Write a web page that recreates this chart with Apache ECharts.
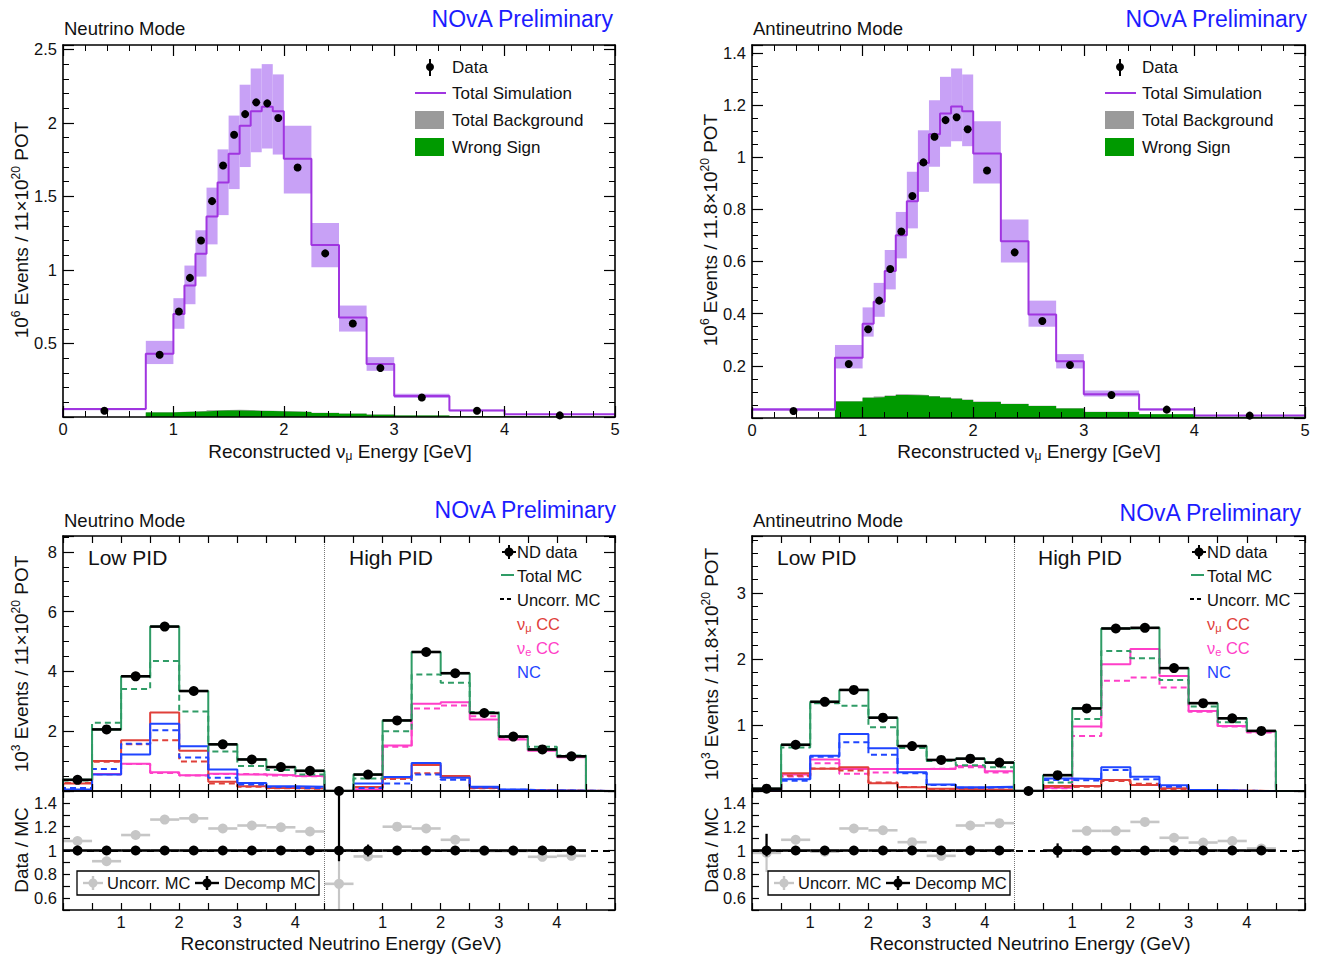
<!DOCTYPE html>
<html><head><meta charset="utf-8">
<script src="https://cdn.jsdelivr.net/npm/echarts@6/dist/echarts.min.js"></script>
<style>html,body{margin:0;padding:0;background:#fff}#c{width:1322px;height:955px}</style>
</head><body><div id="c"></div>
<script>
const FONT = '"Liberation Sans", Arial, Helvetica, sans-serif';

// ---------------- Top panels (numu spectra) ----------------
const topEdges = [0,0.75,1,1.1,1.2,1.3,1.4,1.5,1.6,1.7,1.8,1.9,2,2.25,2.5,2.75,3,3.5,4,5];
// Neutrino mode (10^6 events)
const nuSim      = [0.054,0.43,0.70,0.894,1.11,1.364,1.595,1.79,1.98,2.08,2.11,2.08,1.756,1.17,0.676,0.36,0.143,0.045,0.018];
const nuBandLo   = [0.046,0.36,0.60,0.767,0.955,1.174,1.373,1.55,1.70,1.80,1.826,1.785,1.52,1.018,0.581,0.314,0.129,0.039,0.015];
const nuBandHi   = [0.061,0.518,0.808,1.03,1.27,1.56,1.82,2.05,2.26,2.37,2.40,2.33,1.98,1.32,0.758,0.407,0.158,0.051,0.021];
const nuData     = [0.043,0.423,0.717,0.946,1.20,1.468,1.71,1.92,2.06,2.14,2.133,2.034,1.697,1.113,0.636,0.333,0.133,0.043,0.011];
const nuBkg      = [0,0.032,0.036,0.038,0.041,0.046,0.048,0.049,0.047,0.044,0.042,0.040,0.036,0.029,0.023,0.017,0.011,0.005,0.002];
const nuWrongSgn = [0,0.030,0.034,0.036,0.038,0.042,0.044,0.044,0.043,0.041,0.040,0.038,0.034,0.028,0.022,0.016,0.010,0.005,0.002];
// Antineutrino mode (10^6 events)
const anuSim      = [0.033,0.231,0.361,0.446,0.564,0.701,0.831,0.978,1.088,1.167,1.194,1.176,1.014,0.678,0.397,0.218,0.091,0.033,0.010];
const anuBandLo   = [0.028,0.19,0.312,0.388,0.493,0.612,0.727,0.867,0.963,1.04,1.061,1.042,0.899,0.596,0.35,0.19,0.082,0.030,0.009];
const anuBandHi   = [0.038,0.28,0.424,0.518,0.644,0.79,0.944,1.103,1.218,1.308,1.34,1.317,1.138,0.761,0.45,0.245,0.105,0.037,0.011];
const anuData     = [0.027,0.207,0.34,0.45,0.571,0.715,0.851,0.98,1.078,1.142,1.153,1.107,0.949,0.635,0.372,0.203,0.088,0.032,0.009];
const anuBkg      = [0,0.064,0.079,0.082,0.086,0.091,0.090,0.088,0.084,0.080,0.076,0.071,0.063,0.055,0.047,0.037,0.024,0.014,0.005];
const anuWrongSgn = [0,0.063,0.078,0.080,0.084,0.088,0.087,0.086,0.082,0.078,0.074,0.069,0.061,0.054,0.046,0.036,0.023,0.014,0.005];

// ---------------- Bottom panels (ND nue decomposition) ----------------
// 9 low-PID bins (0-4.5 GeV) followed by 10 high-PID bins (0-5 GeV, shown offset by 4.5)
const botEdges = [0,0.5,1,1.5,2,2.5,3,3.5,4,4.5,5,5.5,6,6.5,7,7.5,8,8.5,9,9.5];
const pidSplit = 4.5;
const pidLabels = [1,2,3,4];
// Neutrino mode (10^3 events)
const nuND      = [0.374,2.06,3.836,5.50,3.344,1.56,1.055,0.80,0.676, 0,0.55,2.36,4.65,3.94,2.61,1.82,1.39,1.16,null];
const nuTotMC   = [0.374,2.06,3.836,5.50,3.344,1.56,1.055,0.80,0.676, 0,0.55,2.36,4.65,3.94,2.61,1.82,1.39,1.16,0];
const nuUncMC   = [0.35,2.28,3.41,4.35,2.66,1.32,0.84,0.70,0.55, 0,0.42,2.0,3.9,3.62,2.64,1.84,1.48,1.19,0];
const nuNumu    = [0.25,1.0,1.70,2.63,1.345,0.307,0.16,0.10,0.08, 0,0.13,0.44,0.87,0.50,0.10,0.03,0.02,0.01,0];
const nuNumuU   = [0.27,0.98,1.56,1.70,0.99,0.25,0.14,0.09,0.07, 0,0.12,0.40,0.59,0.45,0.09,0.03,0.02,0.01,0];
const nuNue     = [0.03,0.57,0.91,0.63,0.53,0.58,0.55,0.53,0.50, 0,0.05,1.525,2.92,2.97,2.39,1.72,1.35,1.13,0];
const nuNueU    = [0.03,0.55,0.90,0.60,0.52,0.57,0.56,0.52,0.49, 0,0.05,1.48,2.76,2.86,2.50,1.78,1.39,1.17,0];
const nuNC      = [0.05,0.55,1.22,2.25,1.50,0.72,0.27,0.16,0.14, 0,0.25,0.47,0.94,0.44,0.14,0.05,0.02,0.01,0];
const nuNCU     = [0.10,0.74,1.58,2.03,1.12,0.44,0.22,0.13,0.10, 0,0.10,0.25,0.55,0.38,0.12,0.04,0.02,0.01,0];
const nuRatUnc  = [1.08,0.91,1.13,1.26,1.27,1.185,1.21,1.195,1.16, 0.72,0.95,1.20,1.185,1.09,0.995,0.995,0.947,0.955,null];
const nuRatUncLo= [0,0,0,0,0,0,0,0,0, 0.25,0,0,0,0,0,0,0,0,null];
const nuRatUncHi= [0,0,0,0,0,0,0,0,0, 0.27,0,0,0,0,0,0,0,0,null];
const nuRatDec  = [1,1,1,1,1,1,1,1,1, 1,1,1,1,1,1,1,1,1,null];
const nuRatDecLo= [0.04,0,0,0,0,0,0,0,0, 0.09,0.05,0,0,0,0,0,0,0,null];
const nuRatDecHi= [0.04,0,0,0,0,0,0,0,0, 0.60,0.05,0,0,0,0,0,0,0,null];
// Antineutrino mode (10^3 events)
const anuND     = [0.035,0.70,1.35,1.53,1.11,0.68,0.47,0.49,0.43, 0,0.24,1.25,2.46,2.47,1.86,1.33,1.10,0.91,null];
const anuTotMC  = [0.035,0.70,1.35,1.53,1.11,0.68,0.47,0.49,0.43, 0,0.24,1.25,2.46,2.47,1.86,1.33,1.10,0.91,0];
const anuUncMC  = [0.03,0.66,1.33,1.29,0.965,0.65,0.455,0.39,0.36, 0,0.13,1.09,2.12,2.01,1.68,1.28,1.04,0.91,0];
const anuNumu   = [0.015,0.268,0.338,0.358,0.116,0.056,0.035,0.025,0.02, 0,0.076,0.076,0.167,0.09,0.04,0.01,0.005,0,0];
const anuNumuU  = [0.015,0.23,0.34,0.31,0.13,0.06,0.03,0.02,0.02, 0,0.06,0.07,0.15,0.11,0.03,0.01,0.005,0,0];
const anuNue    = [0.005,0.25,0.475,0.333,0.333,0.333,0.333,0.38,0.30, 0,0.05,0.975,1.92,2.15,1.74,1.21,0.985,0.90,0];
const anuNueU   = [0.005,0.22,0.42,0.26,0.28,0.333,0.34,0.36,0.28, 0,0.04,0.833,1.667,1.717,1.566,1.20,0.975,0.884,0];
const anuNC     = [0.015,0.177,0.535,0.864,0.646,0.283,0.10,0.055,0.065, 0,0.19,0.18,0.36,0.217,0.086,0.015,0.005,0,0];
const anuNCU    = [0.015,0.157,0.52,0.737,0.55,0.268,0.09,0.05,0.055, 0,0.167,0.157,0.318,0.177,0.066,0.012,0.004,0,0];
const anuRatUnc  = [0.98,1.09,0.99,1.185,1.17,1.07,0.955,1.21,1.23, null,null,1.165,1.165,1.24,1.107,1.067,1.08,1.017,null];
const anuRatUncLo= [0.16,0,0,0,0,0,0,0,0, null,null,0,0,0,0,0,0,0,null];
const anuRatUncHi= [0.16,0,0,0,0,0,0,0,0, null,null,0,0,0,0,0,0,0,null];
const anuRatDec  = [1,1,1,1,1,1,1,1,1, null,1,1,1,1,1,1,1,1,null];
const anuRatDecLo= [0.05,0,0,0,0,0,0,0,0, null,0.06,0,0,0,0,0,0,0,null];
const anuRatDecHi= [0.14,0,0,0,0,0,0,0,0, null,0.06,0,0,0,0,0,0,0,null];

// ---------------- helpers ----------------
const C = {
  purple:'#a035e0', band:'#c8a1f6', ws:'#009a00', bkg:'#9a9a9a',
  green:'#2f9c66', red:'#e0403a', pink:'#ff3fc8', blue:'#1f45ff', grey:'#c6c6c6', blueTxt:'#1c1cff'
};
const centers = e => e.slice(0,-1).map((v,i)=>(v+e[i+1])/2);
function stepData(e, v){
  const d=[[e[0],0]];
  v.forEach((y,i)=>{ const yy = (y==null)?0:y; d.push([e[i],yy],[e[i+1],yy]); });
  d.push([e[e.length-1],0]);
  return d;
}
function pts(e, v){ const c=centers(e); return v.map((y,i)=> y==null?null:[c[i],y]).filter(Boolean); }
function xbars(e, v){ return v.map((y,i)=> y==null?null:[e[i],e[i+1],y]).filter(Boolean); }
function ybars(e, v, lo, hi){ const c=centers(e); return v.map((y,i)=> (y==null||((lo[i]||0)+(hi[i]||0))<0.005)?null:[c[i],y-(lo[i]||0),y+(hi[i]||0)]).filter(Boolean); }
function bands(e, lo, hi){ return lo.map((l,i)=>[e[i],e[i+1],l,hi[i]]); }
function fmtNum(v){ return String(+v.toFixed(2)); }
function stepFmt(step, hideZero){ return v => { const k=v/step; return (Math.abs(k-Math.round(k))<1e-6 && !(hideZero && Math.abs(v)<1e-9)) ? fmtNum(v) : ''; }; }

const grids=[], xAxes=[], yAxes=[], series=[];
function axis(gi, pos, o, primary){
  return {gridIndex:gi, type:'value', position:pos, min:o.min, max:o.max, interval:o.interval,
    axisLine:{show:true, onZero:false, lineStyle:{color:'#000', width:1.6}},
    axisTick:{show:true, inside:true, length:o.tick||11, lineStyle:{color:'#000', width:1.2}},
    minorTick:{show:!!o.minor, splitNumber:o.minor||5, length:o.minorLen||6, lineStyle:{color:'#000', width:1}},
    axisLabel:{show: primary && !o.noLabels, margin:(o.margin!=null?o.margin:6), fontSize:16.5, fontFamily:FONT, color:'#111', formatter:o.fmt, showMinLabel:true, showMaxLabel:true, hideOverlap:false},
    splitLine:{show:false}, minorSplitLine:{show:false}, z:10};
}
function addGrid(rect, xo, yo){
  const gi=grids.length;
  grids.push({left:rect[0], top:rect[1], width:rect[2], height:rect[3], containLabel:false, outerBoundsMode:'none'});
  const xi=xAxes.length; xAxes.push(axis(gi,'bottom',xo,true), axis(gi,'top',xo,false));
  const yi=yAxes.length; yAxes.push(axis(gi,'left',yo,true), axis(gi,'right',yo,false));
  return {x:xi, y:yi};
}
function rectItem(fill){ return (p, api)=>{ const a=api.coord([api.value(0),api.value(2)]), b=api.coord([api.value(1),api.value(3)]);
  return {type:'rect', shape:{x:a[0], y:b[1], width:b[0]-a[0], height:a[1]-b[1]}, style:{fill}}; }; }
function hItem(color,w){ return (p, api)=>{ const a=api.coord([api.value(0),api.value(2)]), b=api.coord([api.value(1),api.value(2)]);
  return {type:'line', shape:{x1:a[0],y1:a[1],x2:b[0],y2:b[1]}, style:{stroke:color, lineWidth:w}}; }; }
function vItem(color,w){ return (p, api)=>{ const a=api.coord([api.value(0),api.value(1)]), b=api.coord([api.value(0),api.value(2)]);
  return {type:'line', shape:{x1:a[0],y1:a[1],x2:b[0],y2:b[1]}, style:{stroke:color, lineWidth:w}}; }; }

function base(ax){ return {xAxisIndex:ax.x, yAxisIndex:ax.y, animation:false, silent:true}; }
function stepLine(ax,e,v,color,w,dashed,z,extra){ series.push(Object.assign(base(ax),{type:'line', data:stepData(e,v), symbol:'none', showSymbol:false, clip:true,
  lineStyle:{color, width:w, type: dashed?[6,4]:'solid'}, z:z||3}, extra||{})); }
function stepArea(ax,e,v,color,z){ series.push(Object.assign(base(ax),{type:'line', data:stepData(e,v), symbol:'none', showSymbol:false, clip:true,
  lineStyle:{width:0, color}, areaStyle:{color, opacity:1}, z})); }
function custom(ax,data,render,enc,z){ series.push(Object.assign(base(ax),{type:'custom', data, renderItem:render, encode:enc, clip:true, z})); }
function scatter(ax,data,color,size,z,extra){ series.push(Object.assign(base(ax),{type:'scatter', data, symbol:'circle', symbolSize:size, itemStyle:{color, opacity:1}, z, clip:false}, extra||{})); }

// ---------------- top panels ----------------
const topX = {min:0, max:5, interval:1, minor:5, fmt: stepFmt(1,false), margin:3};
function topPanel(rect, yo, sim, lo, hi, dat, bkg, ws){
  const ax = addGrid(rect, topX, yo);
  custom(ax, bands(topEdges, lo, hi), rectItem(C.band), {x:[0,1], y:[2,3]}, 1);
  stepArea(ax, topEdges, bkg, C.bkg, 2);
  stepArea(ax, topEdges, ws, C.ws, 3);
  stepLine(ax, topEdges, sim, C.purple, 2, false, 4);
  scatter(ax, pts(topEdges, dat), '#000', 8, 6);
}
topPanel([63,45,552,372], {min:0, max:2.53, interval:0.5, minor:5, fmt:stepFmt(0.5,true)}, nuSim, nuBandLo, nuBandHi, nuData, nuBkg, nuWrongSgn);
topPanel([752,45,553,373], {min:0, max:1.43, interval:0.2, minor:4, fmt:stepFmt(0.2,true)}, anuSim, anuBandLo, anuBandHi, anuData, anuBkg, anuWrongSgn);

// ---------------- bottom panels ----------------
const botXFmt = v => {
  const low = v < pidSplit-1e-6, high = v > pidSplit+1e-6;
  const w = low ? v : v - pidSplit; const r = Math.round(w);
  return ((low||high) && Math.abs(w-r)<1e-6 && pidLabels.indexOf(r)>=0) ? String(r) : '';
};
const botXMain  = {min:0, max:9.5, interval:0.5, tick:7, noLabels:true};
const botXRatio = {min:0, max:9.5, interval:0.5, tick:7, fmt:botXFmt, margin:3};
const ratioY    = {min:0.5, max:1.5, interval:0.1, tick:7, fmt: v => { const r=Math.round(v*10); return (Math.abs(v*10-r)<1e-6 && r%2===0 && r>=6 && r<=14) ? fmtNum(v) : ''; }};
const divider = {markLine:{silent:true, symbol:'none', animation:false, label:{show:false}, lineStyle:{type:'dotted', color:'#777', width:1}, data:[{xAxis:pidSplit}]}};

function botPanel(rectMain, rectRatio, yo, d){
  const ax = addGrid(rectMain, botXMain, yo);
  stepLine(ax, botEdges, d.nue,  C.pink, 2, false, 3, divider);
  stepLine(ax, botEdges, d.nueU, C.pink, 2, true, 3);
  stepLine(ax, botEdges, d.numu, C.red, 2, false, 4);
  stepLine(ax, botEdges, d.numuU,C.red, 2, true, 4);
  stepLine(ax, botEdges, d.nc,   C.blue, 2, false, 5);
  stepLine(ax, botEdges, d.ncU,  C.blue, 2, true, 5);
  stepLine(ax, botEdges, d.unc,  C.green, 2, true, 6);
  stepLine(ax, botEdges, d.tot,  C.green, 2, false, 6);
  custom(ax, xbars(botEdges, d.nd), hItem('#000', 2.6), {x:[0,1], y:2}, 8);
  scatter(ax, pts(botEdges, d.nd), '#000', 10, 9);

  const rx = addGrid(rectRatio, botXRatio, ratioY);
  custom(rx, xbars(botEdges, d.rUnc), hItem(C.grey, 2.6), {x:[0,1], y:2}, 3);
  custom(rx, ybars(botEdges, d.rUnc, d.rUncLo, d.rUncHi), vItem(C.grey, 2.2), {x:0, y:[1,2]}, 3);
  scatter(rx, pts(botEdges, d.rUnc), C.grey, 10, 4, divider);
  series.push(Object.assign(base(rx), {type:'line', data:[], markLine:{silent:true, symbol:'none', animation:false, label:{show:false},
    lineStyle:{type:[7,5], color:'#000', width:2}, data:[{yAxis:1}]}, z:2}));
  custom(rx, xbars(botEdges, d.rDec), hItem('#000', 2.6), {x:[0,1], y:2}, 6);
  custom(rx, ybars(botEdges, d.rDec, d.rDecLo, d.rDecHi), vItem('#000', 2.2), {x:0, y:[1,2]}, 6);
  scatter(rx, pts(botEdges, d.rDec), '#000', 10, 7);
}
botPanel([63,536,552,255], [63,791,552,119], {min:0, max:8.53, interval:2, minor:4, fmt:stepFmt(2,true)},
  {nd:nuND, tot:nuTotMC, unc:nuUncMC, numu:nuNumu, numuU:nuNumuU, nue:nuNue, nueU:nuNueU, nc:nuNC, ncU:nuNCU,
   rUnc:nuRatUnc, rUncLo:nuRatUncLo, rUncHi:nuRatUncHi, rDec:nuRatDec, rDecLo:nuRatDecLo, rDecHi:nuRatDecHi});
botPanel([752,536,553,255], [752,791,553,119], {min:0, max:3.86, interval:1, minor:5, fmt:stepFmt(1,true)},
  {nd:anuND, tot:anuTotMC, unc:anuUncMC, numu:anuNumu, numuU:anuNumuU, nue:anuNue, nueU:anuNueU, nc:anuNC, ncU:anuNCU,
   rUnc:anuRatUnc, rUncLo:anuRatUncLo, rUncHi:anuRatUncHi, rDec:anuRatDec, rDecLo:anuRatDecLo, rDecHi:anuRatDecHi});

// ---------------- text & legends ----------------
const G = [];
function txt(x,y,text,o){ o=o||{}; G.push({type:'text', x, y, rotation:o.rot||0, z:100, silent:true,
  style:{text, fill:o.color||'#111', font:(o.size||16)+'px '+FONT, align:o.align||'left', verticalAlign:o.va||'middle', rich:o.rich}}); }
function richSet(size, color){
  return {
    n:{fontSize:size, fontFamily:FONT, fill:color||'#111', lineHeight:size+3},
    s:{fontSize:Math.round(size*0.65), fontFamily:FONT, fill:color||'#111', lineHeight:Math.round(size*0.65), verticalAlign:'top'},
    b:{fontSize:Math.round(size*0.65), fontFamily:FONT, fill:color||'#111', lineHeight:Math.round(size*0.65)+1, verticalAlign:'bottom'}
  };
}
function line(x1,y1,x2,y2,color,w,dash){ G.push({type:'line', z:101, silent:true, shape:{x1,y1,x2,y2}, style:{stroke:color, lineWidth:w, lineDash:dash||null}}); }
function rect(x,y,w,h,fill,stroke){ G.push({type:'rect', z:99, silent:true, shape:{x,y,width:w,height:h}, style:{fill, stroke:stroke||null, lineWidth:stroke?1.3:0}}); }
function circ(cx,cy,r,fill){ G.push({type:'circle', z:102, silent:true, shape:{cx,cy,r}, style:{fill}}); }

const headers = [
  {x:64, y:28, t:'Neutrino Mode'}, {x:753, y:28, t:'Antineutrino Mode'},
  {x:64, y:520, t:'Neutrino Mode'}, {x:753, y:520, t:'Antineutrino Mode'}
];
headers.forEach(h=>txt(h.x,h.y,h.t,{size:18.5}));
[[613,19],[1307,19],[616,510],[1301,513]].forEach(p=>txt(p[0],p[1],'NOvA Preliminary',{size:23, color:C.blueTxt, align:'right'}));

// axis titles
const YT = 19;
txt(21,230,'{n|10}{s|6}{n| Events / 11×10}{s|20}{n| POT}',{rot:Math.PI/2, align:'center', rich:richSet(YT)});
txt(710,230,'{n|10}{s|6}{n| Events / 11.8×10}{s|20}{n| POT}',{rot:Math.PI/2, align:'center', rich:richSet(YT)});
txt(21,664,'{n|10}{s|3}{n| Events / 11×10}{s|20}{n| POT}',{rot:Math.PI/2, align:'center', rich:richSet(YT)});
txt(711,664,'{n|10}{s|3}{n| Events / 11.8×10}{s|20}{n| POT}',{rot:Math.PI/2, align:'center', rich:richSet(YT)});
txt(21,850,'Data / MC',{rot:Math.PI/2, align:'center', size:YT});
txt(711,850,'Data / MC',{rot:Math.PI/2, align:'center', size:YT});
txt(340,451,'{n|Reconstructed ν}{b|μ}{n| Energy [GeV]}',{align:'center', rich:richSet(19)});
txt(1029,451,'{n|Reconstructed ν}{b|μ}{n| Energy [GeV]}',{align:'center', rich:richSet(19)});
txt(341,943,'Reconstructed Neutrino Energy (GeV)',{align:'center', size:19});
txt(1030,943,'Reconstructed Neutrino Energy (GeV)',{align:'center', size:19});

// PID labels
txt(88,557,'Low PID',{size:21}); txt(349,557,'High PID',{size:21});
txt(777,557,'Low PID',{size:21}); txt(1038,557,'High PID',{size:21});

// top legends
[0,690].forEach(dx=>{
  line(430+dx,59,430+dx,76,'#000',2); circ(430+dx,67,4,'#000'); txt(452+dx,67,'Data',{size:17});
  line(415+dx,93,446+dx,93,C.purple,2); txt(452+dx,93,'Total Simulation',{size:17});
  rect(415+dx,111,29,18,C.bkg); txt(452+dx,120,'Total Background',{size:17});
  rect(415+dx,138,29,18,C.ws); txt(452+dx,147,'Wrong Sign',{size:17});
});
// bottom legends
[0,690].forEach(dx=>{
  line(502+dx,552,516+dx,552,'#000',2); line(509+dx,545,509+dx,559,'#000',2); circ(509+dx,552,4.5,'#000');
  txt(517+dx,552,'ND data',{size:16.5});
  line(501+dx,575,514+dx,575,C.green,2); txt(517+dx,576,'Total MC',{size:16.5});
  line(500+dx,599,514+dx,599,'#000',2,[4,3]); txt(517+dx,600,'Uncorr. MC',{size:16.5});
  txt(517+dx,624,'{n|ν}{b|μ}{n| CC}',{rich:richSet(16.5,C.red)});
  txt(517+dx,648,'{n|ν}{b|e}{n| CC}',{rich:richSet(16.5,C.pink)});
  txt(517+dx,672,'NC',{size:16.5,color:C.blue});
  // ratio legend box
  const bx = dx===0 ? 77 : 768;
  rect(bx,871,242,24,'#fff','#000');
  line(bx+6,883,bx+26,883,C.grey,2.4); line(bx+16,876,bx+16,890,C.grey,2.4); circ(bx+16,883,4.5,C.grey);
  txt(bx+30,883,'Uncorr. MC',{size:16.5});
  line(bx+118,883,bx+142,883,'#000',2.4); line(bx+130,876,bx+130,890,'#000',2.4); circ(bx+130,883,4.5,'#000');
  txt(bx+147,883,'Decomp MC',{size:16.5});
});

const chart = echarts.init(document.getElementById('c'), null, {renderer:'svg', width:1322, height:955});
chart.setOption({
  animation:false, backgroundColor:'#fff',
  grid:grids, xAxis:xAxes, yAxis:yAxes, series, graphic:G
});
</script>
</body></html>
